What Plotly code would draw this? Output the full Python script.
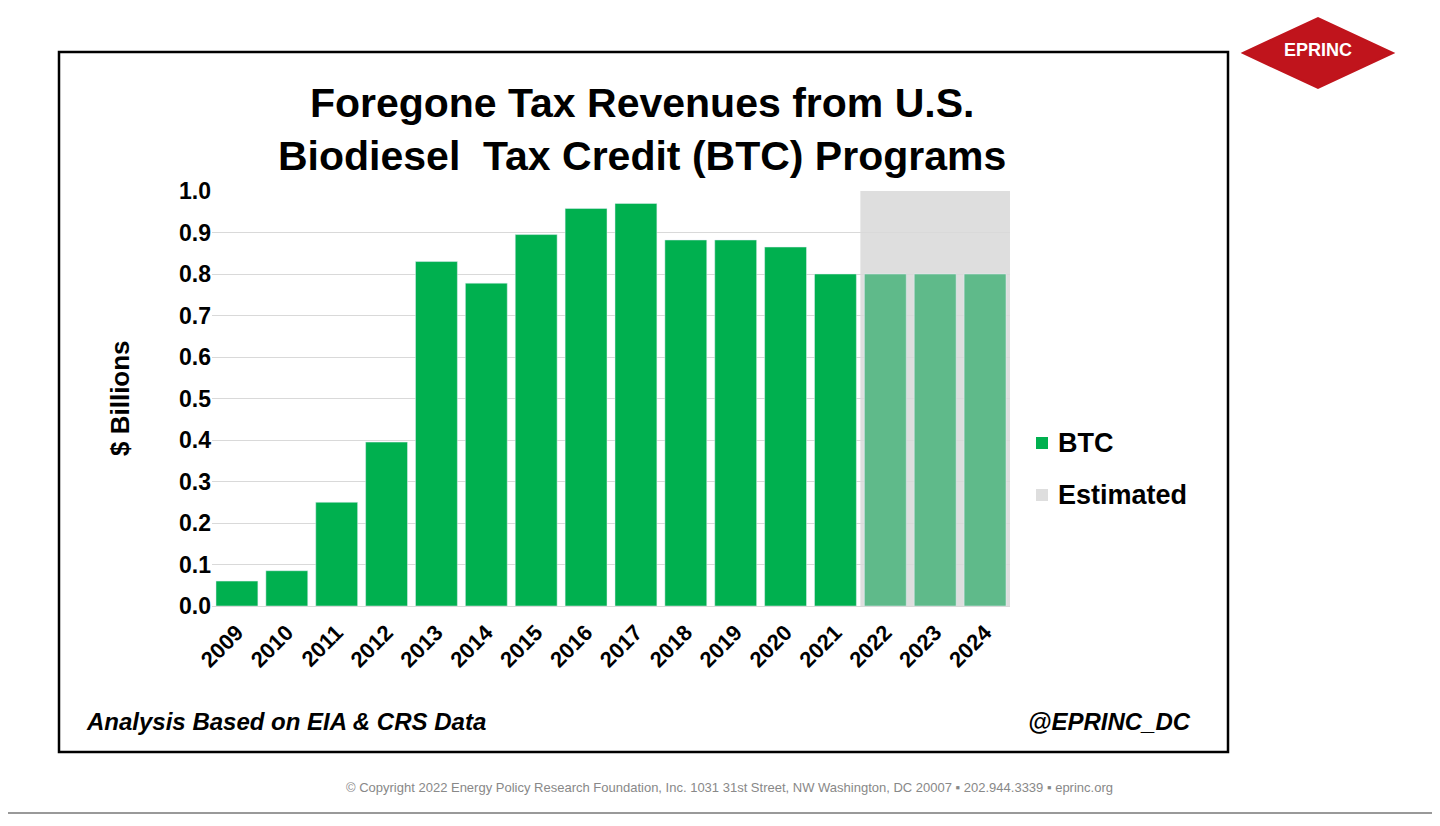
import plotly.graph_objects as go

years = ["2009","2010","2011","2012","2013","2014","2015","2016","2017","2018","2019","2020","2021","2022","2023","2024"]
btc = [0.06,0.085,0.25,0.395,0.83,0.778,0.895,0.958,0.97,0.882,0.882,0.865,0.80,None,None,None]
est = [None]*13 + [0.80,0.80,0.80]
ticks = [0.0,0.1,0.2,0.3,0.4,0.5,0.6,0.7,0.8,0.9,1.0]

OFF = 8
W, H = 1440, 826
L, R, T, B = 212 - OFF, 430 + OFF, 191 - OFF, 220 + OFF
def px(x): return (x - OFF - L) / (W - L - R)
def py(y): return (H - B - (y - OFF)) / (H - T - B)

F = "Liberation Sans, Arial, sans-serif"
fig = go.Figure()
fig.add_bar(x=years, y=btc, marker_color="#00b04f", width=0.84, showlegend=False)
fig.add_bar(x=years, y=est, marker_color="#5fba8a", width=0.84, showlegend=False)

shapes = [
    dict(type="rect", xref="x", yref="y", x0=12.5, x1=15.5, y0=0, y1=1.0, fillcolor="#dedede", line_width=0, layer="below"),
    dict(type="rect", xref="paper", yref="paper", x0=px(59), x1=px(1228), y0=py(52), y1=py(752), line=dict(color="black", width=2.5)),
    dict(type="rect", xref="paper", yref="paper", x0=px(1036), x1=px(1048), y0=py(449), y1=py(437), fillcolor="#00b04f", line_width=0),
    dict(type="rect", xref="paper", yref="paper", x0=px(1036), x1=px(1048), y0=py(501), y1=py(489), fillcolor="#dedede", line_width=0),
    dict(type="line", xref="paper", yref="paper", x0=px(0), x1=px(1440), y0=py(813), y1=py(813), line=dict(color="#999", width=2)),
    dict(type="path", xref="paper", yref="paper",
         path=f"M {px(1243)} {py(53)} L {px(1318)} {py(18)} L {px(1393)} {py(53)} L {px(1318)} {py(88)} Z",
         fillcolor="#c0141c", line=dict(color="#c0141c")),
]
ann = [
    dict(text="<b>Foregone Tax Revenues from U.S.<br>Biodiesel  Tax Credit (BTC) Programs</b>", x=px(642), y=py(130), font=dict(size=41, color="black", family=F)),
    dict(text="<b>BTC</b>", x=px(1056), y=py(443), xanchor="left", font=dict(size=27, color="black", family=F)),
    dict(text="<b>Estimated</b>", x=px(1056), y=py(495), xanchor="left", font=dict(size=27, color="black", family=F)),
    dict(text="<b><i>Analysis Based on EIA &amp; CRS Data</i></b>", x=px(84), y=py(721), xanchor="left", font=dict(size=24, color="black", family=F)),
    dict(text="<b><i>@EPRINC_DC</i></b>", x=px(1193), y=py(721), xanchor="right", font=dict(size=24, color="black", family=F)),
    dict(text="© Copyright 2022 Energy Policy Research Foundation, Inc. 1031 31st Street, NW Washington, DC 20007 ▪ 202.944.3339 ▪ eprinc.org", x=px(729), y=py(787), font=dict(size=13, color="#888", family=F)),
    dict(text="<b>EPRINC</b>", x=px(1318), y=py(50), font=dict(size=18, color="white", family=F)),
    dict(text="<b>$ Billions</b>", x=px(120), y=py(398), textangle=-90, font=dict(size=26, color="black", family=F)),
]
for a in ann:
    a.update(xref="paper", yref="paper", showarrow=False, yanchor="middle")
    a.setdefault("xanchor", "center")

fig.update_layout(
    width=W, height=H, margin=dict(l=L, r=R, t=T, b=B),
    paper_bgcolor="white", plot_bgcolor="white", barmode="overlay", bargap=0.16,
    shapes=shapes, annotations=ann,
    xaxis=dict(tickangle=-45, tickfont=dict(size=22, family=F, color="black"), showline=True, linecolor="#d9d9d9", ticks="outside", ticklen=4, tickcolor="rgba(0,0,0,0)"),
    yaxis=dict(range=[0, 1.0], tickvals=ticks, ticktext=[f"<b>{t:.1f}</b>" for t in ticks],
               tickfont=dict(size=23, family=F, color="black"), gridcolor="#d9d9d9", zeroline=False),
)
fig.update_xaxes(ticktext=[f"<b>{y}</b>" for y in years], tickvals=years)
fig.write_html("out.html")
